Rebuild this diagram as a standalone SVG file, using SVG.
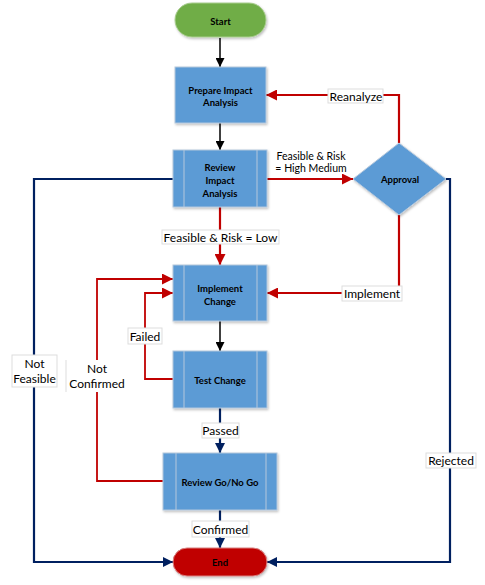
<svg xmlns="http://www.w3.org/2000/svg" width="485" height="585" viewBox="0 0 485 585">
<style>
.node text{font-family:Lato,"Liberation Sans",sans-serif;font-size:9.5px;font-weight:bold;fill:#000;text-anchor:middle;dominant-baseline:central}
.proc{fill:#5B9BD5;stroke:#B4C7DC;stroke-width:1}
.inner{stroke:#B4C7DC;stroke-width:1}
.lbl rect{fill:#fff;stroke:#DDDDDD;stroke-width:1}
.lbl text{font-family:Lato,"Liberation Sans",sans-serif;font-size:12px;fill:#000;text-anchor:middle;dominant-baseline:central}
.k{stroke:#000;stroke-width:1.5;fill:none}
.r{stroke:#C00000;stroke-width:2.2;fill:none}
.n{stroke:#002060;stroke-width:2.2;fill:none}
</style>
<defs>
<marker id="ak" viewBox="0 0 10 10" refX="10" refY="5" markerWidth="9" markerHeight="9" markerUnits="userSpaceOnUse" orient="auto"><path d="M0,0 L10,5 L0,10 z" fill="#000"/></marker>
<marker id="ar" viewBox="0 0 10 10" refX="10" refY="5" markerWidth="12" markerHeight="11" markerUnits="userSpaceOnUse" orient="auto"><path d="M0,0 L10,5 L0,10 z" fill="#C00000"/></marker>
<marker id="an" viewBox="0 0 10 10" refX="10" refY="5" markerWidth="11" markerHeight="10" markerUnits="userSpaceOnUse" orient="auto"><path d="M0,0 L10,5 L0,10 z" fill="#002060"/></marker>
<filter id="sh" x="-10%" y="-10%" width="130%" height="130%"><feDropShadow dx="1" dy="1.5" stdDeviation="1" flood-color="#000" flood-opacity="0.25"/></filter>
</defs>
<g id="connectors">
<path class="k" d="M220,38 V67" marker-end="url(#ak)"/>
<path class="k" d="M220,123 V150" marker-end="url(#ak)"/>
<path class="r" d="M267,179 H353" marker-end="url(#ar)"/>
<path class="r" d="M399,143 V95 H266" marker-end="url(#ar)"/>
<path class="r" d="M220,207 V265" marker-end="url(#ar)"/>
<path class="r" d="M399,215 V293 H267" marker-end="url(#ar)"/>
<path class="n" d="M446,179 H450 V562 H267" marker-end="url(#an)"/>
<path class="n" d="M173,179 H34 V562 H173" marker-end="url(#an)"/>
<path class="k" d="M220,321 V351" marker-end="url(#ak)"/>
<path class="r" style="stroke-width:1.8" d="M173,379 H145 V293 H173" marker-end="url(#ar)"/>
<path class="r" style="stroke-width:1.8" d="M163,481 H97 V279 H173" marker-end="url(#ar)"/>
<path class="n" d="M220,408 V453" marker-end="url(#an)"/>
<path class="n" d="M220,510 V548" marker-end="url(#an)"/>
<g class="lbl">
<rect x="328" y="89" width="55" height="14"/><text x="356" y="96">Reanalyze</text>
<text x="311" y="156" style="font-size:10.5px">Feasible &amp; Risk</text>
<text x="311" y="168" style="font-size:10.5px">= High Medium</text>
<rect x="162" y="230" width="117" height="14"/><text x="220.5" y="237">Feasible &amp; Risk = Low</text>
<rect x="342" y="286" width="60" height="15"/><text x="372" y="293.5">Implement</text>
<rect x="128" y="328" width="34" height="16"/><text x="145" y="336">Failed</text>
<rect x="12" y="355" width="45" height="32"/><text x="34.5" y="363">Not</text><text x="34.5" y="378">Feasible</text>
<rect x="66" y="360" width="62" height="32" style="stroke:none"/><line x1="66" y1="360" x2="66" y2="392" stroke="#DDDDDD"/><text x="97" y="368">Not</text><text x="97" y="383">Confirmed</text>
<rect x="202" y="423" width="37" height="15"/><text x="220.5" y="430.5">Passed</text>
<rect x="192" y="521" width="57" height="16"/><text x="220.5" y="529">Confirmed</text>
<rect x="426" y="453" width="50" height="15"/><text x="451" y="460.5">Rejected</text>
</g>
</g>
<g id="start" class="node"><rect x="175" y="3" width="91" height="34" rx="17" fill="#70AD47" stroke="#A9CD90" filter="url(#sh)"/><text x="220.5" y="21">Start</text></g>
<g id="prepare" class="node"><rect class="proc" x="175" y="67" width="91" height="56" filter="url(#sh)"/><text x="220.5" y="90">Prepare Impact</text><text x="220.5" y="102">Analysis</text></g>
<g id="review-impact" class="node"><rect class="proc" x="173" y="150" width="94" height="57" filter="url(#sh)"/><line class="inner" x1="184" y1="150" x2="184" y2="207"/><line class="inner" x1="257" y1="150" x2="257" y2="207"/><text x="220" y="167">Review</text><text x="220" y="180">Impact</text><text x="220" y="193">Analysis</text></g>
<g id="approval" class="node"><path class="proc" d="M399,143 L446,179 L399,215 L353,179 Z" filter="url(#sh)"/><text x="400" y="179">Approval</text></g>
<g id="implement" class="node"><rect class="proc" x="173" y="265" width="94" height="56" filter="url(#sh)"/><line class="inner" x1="184" y1="265" x2="184" y2="321"/><line class="inner" x1="257" y1="265" x2="257" y2="321"/><text x="220" y="288">Implement</text><text x="220" y="301">Change</text></g>
<g id="test" class="node"><rect class="proc" x="173" y="351" width="94" height="57" filter="url(#sh)"/><line class="inner" x1="184" y1="351" x2="184" y2="408"/><line class="inner" x1="257" y1="351" x2="257" y2="408"/><text x="220" y="380">Test Change</text></g>
<g id="review-go" class="node"><rect class="proc" x="163" y="453" width="114" height="57" filter="url(#sh)"/><line class="inner" x1="176" y1="453" x2="176" y2="510"/><line class="inner" x1="266" y1="453" x2="266" y2="510"/><text x="220" y="482">Review Go/No Go</text></g>
<g id="end" class="node"><rect x="173" y="548" width="94" height="28" rx="14" fill="#C00000" stroke="#D98080" filter="url(#sh)"/><text x="220" y="562">End</text></g>
</svg>
